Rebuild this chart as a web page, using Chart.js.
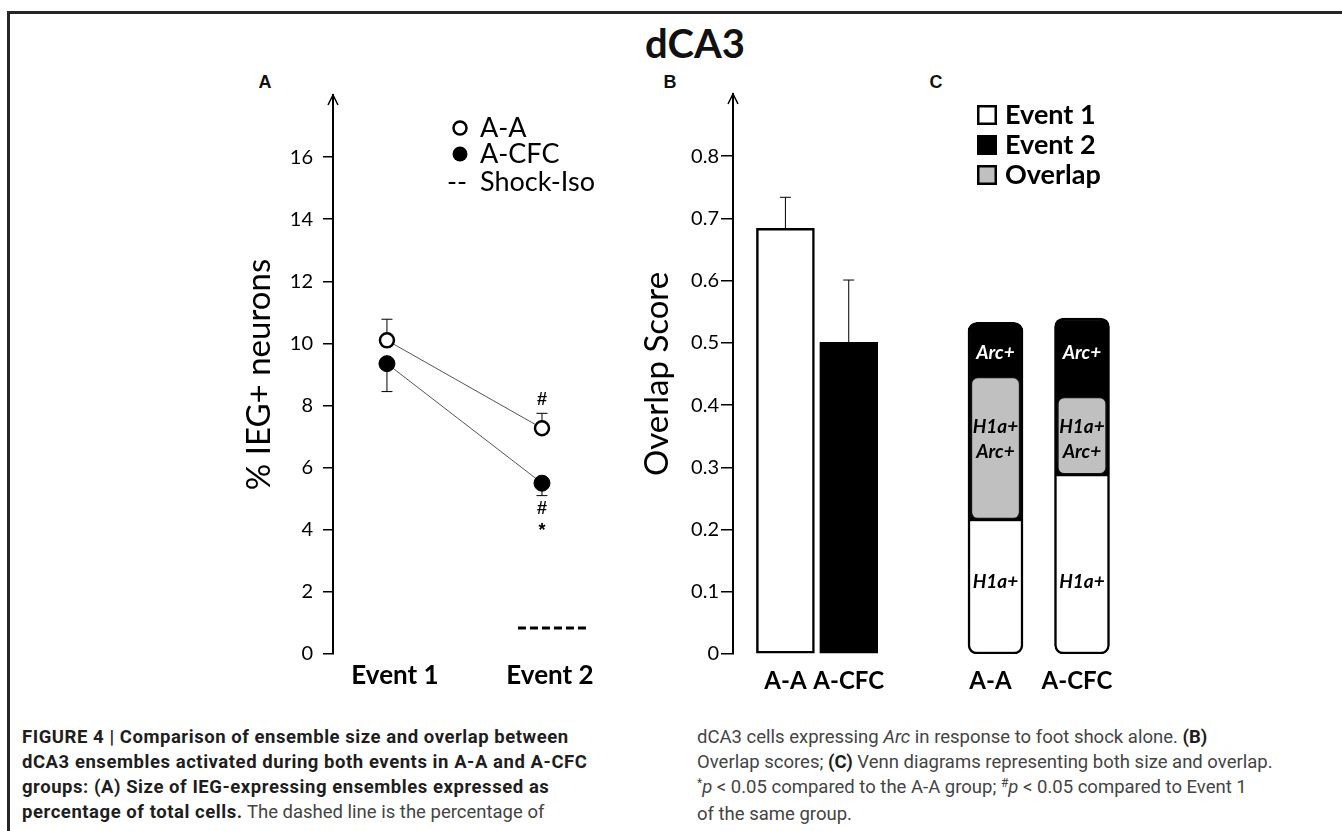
<!DOCTYPE html>
<html>
<head>
<meta charset="utf-8">
<title>dCA3</title>
<script src="https://cdn.jsdelivr.net/npm/chart.js@4.4.1/dist/chart.umd.min.js"></script>
<style>
  body { margin: 0; width: 1342px; height: 831px; overflow: hidden; background: #fff; position: relative; font-family: Lato, sans-serif; }
  .frame { position: absolute; left: 7px; top: 11px; width: 1400px; height: 900px; border: 3px solid #262626; }
  canvas { position: absolute; }
  #chartA { left: 200px; top: 60px; }
  #chartB { left: 620px; top: 60px; }
  #chartC { left: 930px; top: 60px; }
  .title { position: absolute; left: 695px; top: 43px; transform: translate(-50%, -50%); font: 700 40px Lato; color: #111; }
  .panel { position: absolute; top: 82px; transform: translate(-50%, -50%); font: 700 18px "Liberation Sans", Arial, sans-serif; color: #111; }
  .cap { position: absolute; top: 725px; font: 18.5px Roboto, sans-serif; line-height: 25px; color: #444; white-space: nowrap; }
  .cap b { color: #1e1e1e; letter-spacing: 0.55px; }
  .sup { position: relative; top: -6px; font-size: 12px; }
</style>
</head>
<body>
<div class="frame"></div>
<div class="title">dCA3</div>
<div class="panel" style="left:265px">A</div>
<div class="panel" style="left:670px">B</div>
<div class="panel" style="left:936px">C</div>

<canvas id="chartA" width="430" height="644"></canvas>
<canvas id="chartB" width="280" height="644"></canvas>
<canvas id="chartC" width="220" height="644"></canvas>

<div class="cap" style="left:22px"><b>FIGURE 4 | Comparison of ensemble size and overlap between<br>dCA3 ensembles activated during both events in A-A and A-CFC<br>groups: (A) Size of IEG-expressing ensembles expressed as<br>percentage of total cells.</b> The dashed line is the percentage of</div>
<div class="cap" style="left:697px">dCA3 cells expressing <i>Arc</i> in response to foot shock alone. <b style="letter-spacing:0">(B)</b><br>Overlap scores; <b style="letter-spacing:0">(C)</b> Venn diagrams representing both size and overlap.<br><span class="sup">*</span><i>p</i> &lt; 0.05 compared to the A-A group; <span class="sup">#</span><i>p</i> &lt; 0.05 compared to Event 1<br>of the same group.</div>

<script>
// panel A : size of IEG+ ensembles
const eventLabels = ['Event 1', 'Event 2'];
const aaSize = [10.1, 7.27];
const aaErr = [0.68, 0.48];
const cfcSize = [9.35, 5.5];
const cfcErr = [0.9, 0.4];
const aaMarks = ['', '#'];
const cfcMarks = ['', '#*'];
const shockIso = 0.84;
const shockIsoSpan = [1.845, 2.3];
const sizeTicks = [0, 2, 4, 6, 8, 10, 12, 14, 16];

// panel B : overlap score
const groups = ['A-A', 'A-CFC'];
const overlapScore = [0.684, 0.501];
const overlapErr = [0.05, 0.1];
const scoreTicks = [0, 0.1, 0.2, 0.3, 0.4, 0.5, 0.6, 0.7, 0.8];

// panel C : venn columns (same scale as B)
const vennGroups = ['A-A', 'A-CFC'];
const h1aOnlyTop = [0.217, 0.289];
const overlapTop = [0.445, 0.413];
const arcTop = [0.533, 0.54];

Chart.defaults.font.family = 'Lato, sans-serif';
Chart.defaults.color = '#000';

// open arrow head on top of the y axis
const axisArrow = {
  id: 'axisArrow',
  afterDraw(chart) {
    const a = chart.chartArea;
    const ctx = chart.ctx;
    ctx.save();
    ctx.strokeStyle = '#000';
    ctx.lineWidth = 1.5;
    ctx.beginPath();
    ctx.moveTo(a.left - 5, a.top + 10);
    ctx.lineTo(a.left, a.top);
    ctx.lineTo(a.left + 5, a.top + 10);
    ctx.stroke();
    ctx.restore();
  }
};

// one sided error bars : err > 0 goes up, err < 0 goes down
function errorBars(list) {
  return {
    id: 'errorBars',
    beforeDatasetsDraw(chart) {
      const ctx = chart.ctx;
      const xs = chart.scales.x, ys = chart.scales.y;
      ctx.save();
      ctx.strokeStyle = '#000';
      ctx.lineWidth = 1;
      list.forEach(e => {
        const px = xs.getPixelForValue(e.x);
        const p0 = ys.getPixelForValue(e.y);
        const p1 = ys.getPixelForValue(e.y + e.err);
        ctx.beginPath();
        ctx.moveTo(px, p0);
        ctx.lineTo(px, p1);
        ctx.moveTo(px - 5.5, p1);
        ctx.lineTo(px + 5.5, p1);
        ctx.stroke();
      });
      ctx.restore();
    }
  };
}

function yAxis(opts) {
  return {
    min: 0,
    max: opts.max,
    afterBuildTicks: s => { s.ticks = opts.ticks.map(v => ({ value: v })); },
    afterFit: s => { s.width = opts.width; },
    border: { display: true, color: '#000', width: 2 },
    grid: { display: true, drawOnChartArea: false, color: '#000', lineWidth: 1.5, tickLength: opts.tickLength },
    ticks: { font: { size: 20 }, color: '#000', padding: opts.padding, callback: opts.format },
    title: { display: true, text: opts.title, font: { size: 33 }, color: '#000', padding: { top: opts.titlePad, bottom: 0 } }
  };
}

function xAxis(opts) {
  return {
    type: 'linear',
    offset: false,
    min: opts.min,
    max: opts.max,
    afterBuildTicks: s => { s.ticks = opts.labels.map((l, i) => ({ value: i + 1 })); },
    afterFit: s => { s.height = 50; },
    border: { display: false },
    grid: { display: false, drawTicks: false },
    ticks: { font: { size: opts.size, weight: 'bold' }, color: '#000', padding: opts.padding, labelOffset: opts.labelOffset, maxRotation: 0, autoSkip: false, callback: v => opts.labels[v - 1] }
  };
}

// ---------- A ----------
const legendA = {
  id: 'legendA',
  afterDraw(chart) {
    const a = chart.chartArea;
    const ctx = chart.ctx;
    const x0 = a.left + 127, tx = a.left + 147;
    const rows = [a.top + 33, a.top + 59, a.top + 87];
    const ds = chart.data.datasets;
    ctx.save();
    ctx.font = '27px Lato';
    ctx.textBaseline = 'middle';
    ctx.fillStyle = '#000';
    // open and filled markers
    ctx.lineWidth = 2.5;
    ctx.strokeStyle = '#000';
    ctx.beginPath(); ctx.arc(x0, rows[0], 6.5, 0, Math.PI * 2);
    ctx.fillStyle = '#fff'; ctx.fill(); ctx.stroke();
    ctx.beginPath(); ctx.arc(x0, rows[1], 7.5, 0, Math.PI * 2);
    ctx.fillStyle = '#000'; ctx.fill();
    ctx.fillText('--', x0 - 13, rows[2]);
    ctx.fillText(ds[0].label, tx, rows[0]);
    ctx.fillText(ds[1].label, tx, rows[1]);
    ctx.fillText(ds[2].label, tx, rows[2]);
    ctx.restore();
  }
};

const sigA = {
  id: 'sigA',
  afterDatasetsDraw(chart) {
    const ctx = chart.ctx;
    const xs = chart.scales.x, ys = chart.scales.y;
    ctx.save();
    ctx.font = 'bold 18px "Liberation Sans", Arial, sans-serif';
    ctx.textAlign = 'center';
    ctx.textBaseline = 'middle';
    ctx.fillStyle = '#000';
    eventLabels.forEach((e, i) => {
      const px = xs.getPixelForValue(i + 1);
      if (aaMarks[i]) ctx.fillText(aaMarks[i], px, ys.getPixelForValue(aaSize[i] + aaErr[i]) - 13);
      cfcMarks[i].split('').forEach((m, k) => {
        const shift = m === '*' ? 5 : 0;
        ctx.fillText(m, px, ys.getPixelForValue(cfcSize[i] - cfcErr[i]) + 13 + k * 17 + shift);
      });
    });
    ctx.restore();
  }
};

const barsA = [];
eventLabels.forEach((e, i) => {
  barsA.push({ x: i + 1, y: aaSize[i], err: aaErr[i] });
  barsA.push({ x: i + 1, y: cfcSize[i], err: -cfcErr[i] });
});

new Chart(document.getElementById('chartA'), {
  type: 'line',
  data: {
    datasets: [
      {
        label: 'A-A',
        data: eventLabels.map((e, i) => ({ x: i + 1, y: aaSize[i] })),
        borderColor: '#555', borderWidth: 1,
        pointRadius: 7, pointBackgroundColor: '#fff', pointBorderColor: '#000', pointBorderWidth: 2.5
      },
      {
        label: 'A-CFC',
        data: eventLabels.map((e, i) => ({ x: i + 1, y: cfcSize[i] })),
        borderColor: '#555', borderWidth: 1,
        pointRadius: 8, pointBackgroundColor: '#000', pointBorderColor: '#000', pointBorderWidth: 1
      },
      {
        label: 'Shock-Iso',
        data: shockIsoSpan.map(x => ({ x: x, y: shockIso })),
        borderColor: '#000', borderWidth: 3, borderDash: [8, 4], pointRadius: 0
      }
    ]
  },
  options: {
    responsive: false,
    animation: false,
    devicePixelRatio: 1,
    events: [],
    layout: { autoPadding: false, padding: { top: 35, right: 10.5, bottom: 0, left: 0 } },
    plugins: { legend: { display: false }, tooltip: { enabled: false } },
    scales: {
      x: xAxis({ min: 0.652, max: 2.5, labels: eventLabels, size: 26, padding: 6, labelOffset: 8 }),
      y: yAxis({ max: 18, ticks: sizeTicks, width: 133, tickLength: 10, padding: 10, titlePad: 40,
                 title: '% IEG+ neurons', format: v => String(v) })
    }
  },
  plugins: [axisArrow, errorBars(barsA), legendA, sigA]
});

// ---------- B ----------
new Chart(document.getElementById('chartB'), {
  type: 'bar',
  data: {
    datasets: [{
      label: 'Overlap Score',
      data: groups.map((g, i) => ({ x: i + 1, y: overlapScore[i] })),
      backgroundColor: ['#fff', '#000'],
      borderColor: '#000',
      borderWidth: 2.5,
      borderSkipped: false,
      barThickness: 58
    }]
  },
  options: {
    responsive: false,
    animation: false,
    devicePixelRatio: 1,
    events: [],
    layout: { autoPadding: false, padding: { top: 34, right: 11.6, bottom: 0, left: 0 } },
    plugins: { legend: { display: false }, tooltip: { enabled: false } },
    scales: {
      x: xAxis({ min: 0.172, max: 2.6, labels: groups, size: 24, padding: 13, labelOffset: 0 }),
      y: yAxis({ max: 0.9, ticks: scoreTicks, width: 113, tickLength: 12, padding: 2, titlePad: 18,
                 title: 'Overlap Score', format: v => v === 0 ? '0' : v.toFixed(1) })
    }
  },
  plugins: [axisArrow, errorBars(groups.map((g, i) => ({ x: i + 1, y: overlapScore[i], err: overlapErr[i] })))]
});

// ---------- C ----------
const legendC = {
  id: 'legendC',
  afterDraw(chart) {
    const a = chart.chartArea;
    const ctx = chart.ctx;
    const sx = a.left + 33.4, tx = a.left + 61.4;
    const ds = chart.data.datasets;
    ctx.save();
    ctx.font = 'bold 27px Lato';
    ctx.textBaseline = 'middle';
    ds.forEach((d, k) => {
      const cy = a.top + 21 + k * 30;
      ctx.fillStyle = d.backgroundColor;
      ctx.fillRect(sx, cy - 10, 20, 20);
      ctx.strokeStyle = '#000';
      ctx.lineWidth = 2.5;
      ctx.strokeRect(sx + 1.25, cy - 8.75, 17.5, 17.5);
      ctx.fillStyle = '#000';
      ctx.fillText(d.label, tx, cy);
    });
    ctx.restore();
  }
};

const vennText = {
  id: 'vennText',
  afterDatasetsDraw(chart) {
    const ctx = chart.ctx;
    const xs = chart.scales.x, ys = chart.scales.y;
    ctx.save();
    ctx.font = 'italic bold 19px Lato';
    ctx.textAlign = 'center';
    ctx.textBaseline = 'middle';
    vennGroups.forEach((g, i) => {
      const px = xs.getPixelForValue(i + 1);
      ctx.fillStyle = '#fff';
      ctx.fillText('Arc+', px, ys.getPixelForValue(0.484));
      ctx.fillStyle = '#000';
      ctx.fillText('H1a+', px, ys.getPixelForValue(0.365));
      ctx.fillText('Arc+', px, ys.getPixelForValue(0.325));
      ctx.fillText('H1a+', px, ys.getPixelForValue(0.116));
    });
    ctx.restore();
  }
};

new Chart(document.getElementById('chartC'), {
  type: 'bar',
  data: {
    datasets: [
      {
        label: 'Event 1',
        data: vennGroups.map((g, i) => ({ x: i + 1, y: [0, h1aOnlyTop[i]] })),
        backgroundColor: '#fff', borderColor: '#000', borderWidth: 2.5, borderSkipped: false,
        borderRadius: { topLeft: 0, topRight: 0, bottomLeft: 9, bottomRight: 9 },
        barThickness: 55, order: 3
      },
      {
        label: 'Event 2',
        data: vennGroups.map((g, i) => ({ x: i + 1, y: [h1aOnlyTop[i], arcTop[i]] })),
        backgroundColor: '#000', borderColor: '#000', borderWidth: 2.5, borderSkipped: false,
        borderRadius: { topLeft: 9, topRight: 9, bottomLeft: 0, bottomRight: 0 },
        barThickness: 55, order: 2
      },
      {
        label: 'Overlap',
        data: vennGroups.map((g, i) => ({ x: i + 1, y: [h1aOnlyTop[i], overlapTop[i]] })),
        backgroundColor: '#c0c0c0', borderColor: '#111', borderWidth: 1.5, borderSkipped: false,
        borderRadius: 7,
        barThickness: 49, order: 1
      }
    ]
  },
  options: {
    responsive: false,
    animation: false,
    devicePixelRatio: 1,
    events: [],
    datasets: { bar: { grouped: false } },
    layout: { autoPadding: false, padding: { top: 34, right: 16.1, bottom: 0, left: 13.6 } },
    plugins: { legend: { display: false }, tooltip: { enabled: false } },
    scales: {
      x: xAxis({ min: 0.4, max: 2.6, labels: vennGroups, size: 24, padding: 13, labelOffset: -5 }),
      y: { display: false, min: 0, max: 0.9 }
    }
  },
  plugins: [legendC, vennText]
});
</script>
</body>
</html>
